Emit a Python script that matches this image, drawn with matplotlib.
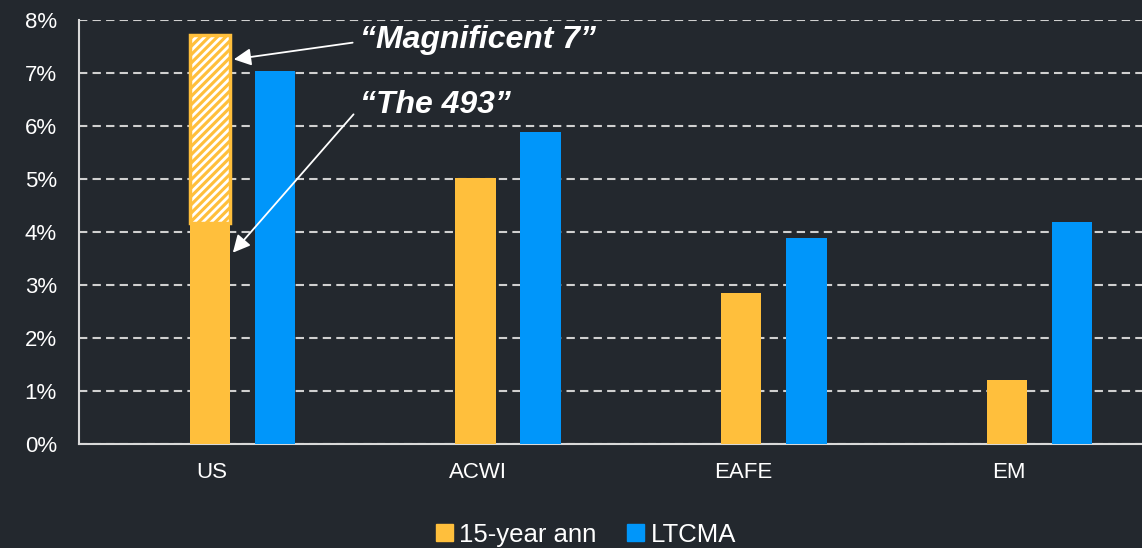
import matplotlib
matplotlib.use("Agg")
import matplotlib.pyplot as plt
from matplotlib.patches import Patch
import numpy as np

categories = ["US", "ACWI", "EAFE", "EM"]
ann15 = [4.17, 5.01, 2.85, 1.21]          # 15-year annualized (US = "The 493" part)
mag7_extra = [3.55, 0, 0, 0]              # "Magnificent 7" stacked on US
ltcma = [7.04, 5.89, 3.89, 4.19]
yticks = [0, 1, 2, 3, 4, 5, 6, 7, 8]

BG = "#23282e"
GOLD = "#FFBF3C"
BLUE = "#0096FA"
FG = "#FFFFFF"

plt.rcParams["font.family"] = ["Liberation Sans", "DejaVu Sans"]
plt.rcParams["hatch.linewidth"] = 2.0

fig = plt.figure(figsize=(11.42, 5.48), dpi=100, facecolor=BG)
ax = fig.add_axes([79/1142, 1-444/548, 1-79/1142, (444-20)/548])
ax.set_facecolor(BG)

x = np.arange(len(categories))
w = 0.152
g_off = -0.008
b_off = 0.237
ax.bar(x + g_off, ann15, width=w, color=GOLD, zorder=3)
ax.bar(x[:1] + g_off, mag7_extra[:1], bottom=ann15[:1], width=w, facecolor=GOLD,
       edgecolor="white", hatch="////", lw=0, zorder=3)
ax.bar(x[:1] + g_off, mag7_extra[:1], bottom=ann15[:1], width=w, fill=False,
       edgecolor=GOLD, lw=2.5, zorder=3.5)
ax.bar(x + b_off, ltcma, width=w, color=BLUE, zorder=3)

ax.set_xlim(-0.5, 3.5)
ax.set_ylim(0, 8)
ax.set_yticks(yticks)
ax.set_yticklabels([f"{v}%" for v in yticks])
ax.set_xticks(x)
ax.set_xticklabels(categories)
ax.tick_params(axis="both", colors=FG, labelsize=16, length=0)
ax.tick_params(axis="y", pad=16)
ax.tick_params(axis="x", pad=13)
ax.yaxis.grid(True, color="#d0d0d0", linestyle=(0, (4, 2.5)), lw=1.5, zorder=0)
for s in ["top", "right"]:
    ax.spines[s].set_visible(False)
for s in ["left", "bottom"]:
    ax.spines[s].set_color("#d9d9d9")
    ax.spines[s].set_linewidth(1.5)

ax.annotate("", xy=(0.072, 7.25), xytext=(0.54, 7.58),
            arrowprops=dict(arrowstyle="-|>", color="white", lw=1.3, mutation_scale=26), zorder=5)
ax.annotate("", xy=(0.072, 3.57), xytext=(0.54, 6.26),
            arrowprops=dict(arrowstyle="-|>", color="white", lw=1.3, mutation_scale=26), zorder=5)
ax.text(0.557, 7.62, "\u201cMagnificent 7\u201d", color=FG, fontsize=23,
        fontweight="bold", fontstyle="italic", va="center", ha="left", zorder=6)
ax.text(0.557, 6.40, "\u201cThe 493\u201d", color=FG, fontsize=23,
        fontweight="bold", fontstyle="italic", va="center", ha="left", zorder=6)

handles = [Patch(color=GOLD, label="15-year ann"), Patch(color=BLUE, label="LTCMA")]
fig.legend(handles=handles, loc="lower center", bbox_to_anchor=(0.513, -0.04), ncol=2,
           frameon=False, fontsize=18.5, labelcolor=FG, handlelength=0.65, handleheight=0.65,
           handletextpad=0.25, columnspacing=1.2)

fig.savefig("out.png", dpi=100, facecolor=BG)
